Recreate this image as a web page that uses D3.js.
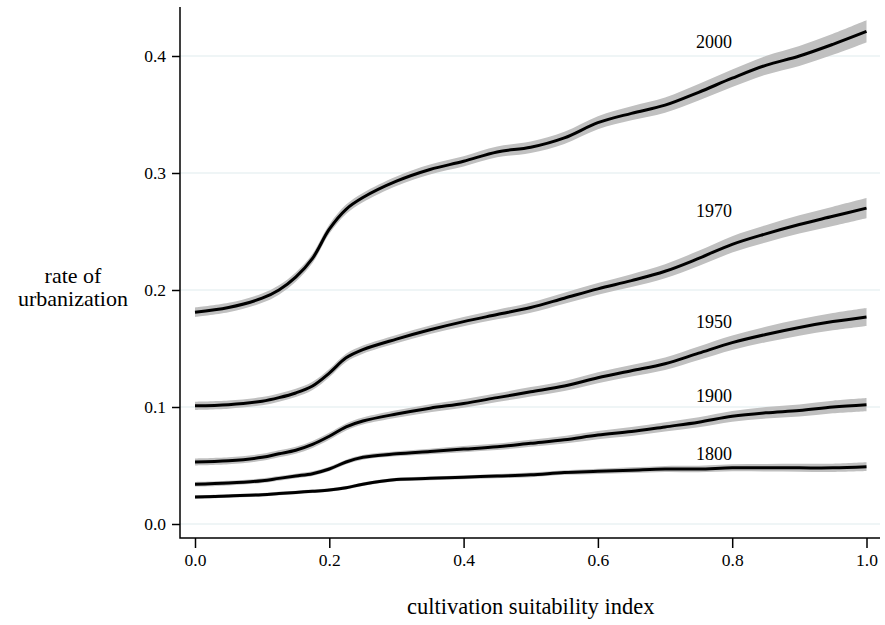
<!DOCTYPE html>
<html lang="en">
  <head>
    <meta charset="UTF-8" />
    <title>rate of urbanization</title>
    <style>
      body { margin: 0; background: #fff; }
      text { font-family: "Liberation Serif", "DejaVu Serif", serif; fill: #000; }
    </style>
  </head>
  <body>
    <svg id="svg" width="885" height="625"></svg>

    <script src="https://cdn.jsdelivr.net/npm/d3@7"></script>
    <script>
      // cultivation suitability index (x positions of the estimates)
      const xs = [0, 0.05, 0.1, 0.125, 0.15, 0.175, 0.2, 0.225, 0.25, 0.3, 0.35, 0.4,
        0.45, 0.5, 0.55, 0.6, 0.65, 0.7, 0.75, 0.8, 0.85, 0.9, 0.95, 1.0];

      const years = ["1800", "1900", "1950", "1970", "2000"];

      const rate1800 = [.023, .024, .025, .026, .027, .028, .029, .031, .034, .038, .039, .040,
        .041, .042, .044, .045, .046, .047, .047, .048, .048, .048, .048, .049];
      const rate1900 = [.034, .035, .037, .039, .041, .043, .047, .053, .057, .060, .062, .064,
        .066, .069, .072, .076, .079, .083, .087, .092, .095, .097, .100, .102];
      const rate1950 = [.053, .054, .057, .060, .063, .068, .075, .083, .088, .094, .099, .103,
        .108, .113, .118, .125, .131, .137, .146, .155, .162, .168, .173, .177];
      const rate1970 = [.101, .102, .105, .108, .112, .118, .129, .142, .149, .158, .166, .173,
        .179, .185, .193, .201, .208, .216, .227, .239, .248, .256, .263, .270];
      const rate2000 = [.181, .185, .193, .200, .211, .227, .252, .269, .279, .293, .303, .310,
        .318, .322, .330, .343, .351, .358, .369, .381, .392, .400, .410, .421];

      // half width of the confidence band
      const ci1800 = [.0015, .0015, .0015, .0015, .0015, .0015, .0015, .0015, .0015, .0015, .0015, .0017,
        .0018, .002, .002, .0022, .0024, .0026, .0028, .003, .0032, .0034, .0036, .0038];
      const ci1900 = [.002, .002, .002, .002, .002, .002, .002, .002, .002, .0022, .0024, .0026,
        .0028, .003, .0032, .0035, .0038, .004, .0043, .0046, .0049, .0052, .0054, .0056];
      const ci1950 = [.003, .003, .003, .003, .003, .003, .003, .003, .003, .0032, .0034, .0036,
        .0038, .004, .0043, .0047, .005, .0054, .0058, .0062, .0066, .007, .0074, .0077];
      const ci1970 = [.0035, .0035, .0035, .0035, .0035, .0035, .0035, .0035, .0035, .0036, .0037, .0039,
        .0041, .0044, .0047, .005, .0055, .006, .0065, .007, .0074, .0078, .0082, .0086];
      const ci2000 = [.004, .004, .004, .004, .004, .004, .004, .004, .004, .0041, .0042, .0044,
        .0046, .0049, .0052, .0056, .006, .0065, .007, .0075, .008, .0085, .009, .0095];

      // where each year label sits (data coordinates)
      const labelX = [0.773, 0.773, 0.773, 0.773, 0.773];
      const labelY = [0.0547, 0.104, 0.1675, 0.262, 0.407];

      const xTicks = [0, 0.2, 0.4, 0.6, 0.8, 1.0];
      const yTicks = [0, 0.1, 0.2, 0.3, 0.4];

      const rates = [rate1800, rate1900, rate1950, rate1970, rate2000];
      const cis = [ci1800, ci1900, ci1950, ci1970, ci2000];

      const x = d3.scaleLinear().domain([0, 1]).range([195, 866.5]);
      const y = d3.scaleLinear().domain([0, 0.4]).range([524, 56]);

      const plotLeft = 180, plotRight = 880, plotTop = 7, plotBottom = 538;

      const svg = d3.select("#svg");

      // grid
      svg.append("g")
        .selectAll("line")
        .data(yTicks)
        .join("line")
        .attr("x1", plotLeft)
        .attr("x2", plotRight)
        .attr("y1", (d) => y(d))
        .attr("y2", (d) => y(d))
        .attr("stroke", "#eaf2f3")
        .attr("stroke-width", 1.5);

      const curve = d3.curveCatmullRom.alpha(0.5);

      const series = years.map((yr, i) =>
        xs.map((xv, j) => ({ x: xv, v: rates[i][j], ci: cis[i][j] }))
      );

      const area = d3.area()
        .curve(curve)
        .x((d) => x(d.x))
        .y0((d) => y(d.v - d.ci))
        .y1((d) => y(d.v + d.ci));

      const line = d3.line()
        .curve(curve)
        .x((d) => x(d.x))
        .y((d) => y(d.v));

      svg.append("g")
        .selectAll("path")
        .data(series)
        .join("path")
        .attr("d", area)
        .attr("fill", "#c0c0c0");

      svg.append("g")
        .selectAll("path")
        .data(series)
        .join("path")
        .attr("d", line)
        .attr("fill", "none")
        .attr("stroke", "#000")
        .attr("stroke-width", 3);

      // year labels
      svg.append("g")
        .selectAll("text")
        .data(years)
        .join("text")
        .attr("x", (d, i) => x(labelX[i]))
        .attr("y", (d, i) => y(labelY[i]))
        .attr("text-anchor", "middle")
        .style("font-size", "18px")
        .text((d) => d);

      // axes
      const yAxis = d3.axisLeft(y)
        .tickValues(yTicks)
        .tickFormat(d3.format(".1f"))
        .tickSize(8)
        .tickPadding(6);
      const gy = svg.append("g").attr("transform", `translate(${plotLeft},0)`).call(yAxis);
      gy.select(".domain").remove();

      const xAxis = d3.axisBottom(x)
        .tickValues(xTicks)
        .tickFormat(d3.format(".1f"))
        .tickSize(10)
        .tickPadding(6);
      const gx = svg.append("g").attr("transform", `translate(0,${plotBottom})`).call(xAxis);
      gx.select(".domain").remove();

      [gx, gy].forEach((g) => {
        g.attr("font-family", null).attr("font-size", null);
        g.selectAll(".tick line").attr("stroke", "#000").attr("stroke-width", 1.5);
        g.selectAll(".tick text")
          .style("font-size", "17.5px")
          .attr("fill", "#000");
      });

      svg.append("path")
        .attr("d", `M${plotLeft},${plotTop}V${plotBottom}H${plotRight}`)
        .attr("fill", "none")
        .attr("stroke", "#000")
        .attr("stroke-width", 1.5);

      // titles
      svg.append("text")
        .attr("x", (x(0) + x(1)) / 2)
        .attr("y", 614)
        .attr("text-anchor", "middle")
        .style("font-size", "22.5px")
        .text("cultivation suitability index");

      const yl = svg.append("text")
        .attr("text-anchor", "middle")
        .style("font-size", "22px");
      yl.append("tspan").attr("x", 73).attr("y", 283).text("rate of");
      yl.append("tspan").attr("x", 73).attr("y", 306).text("urbanization");
    </script>
  </body>
</html>
